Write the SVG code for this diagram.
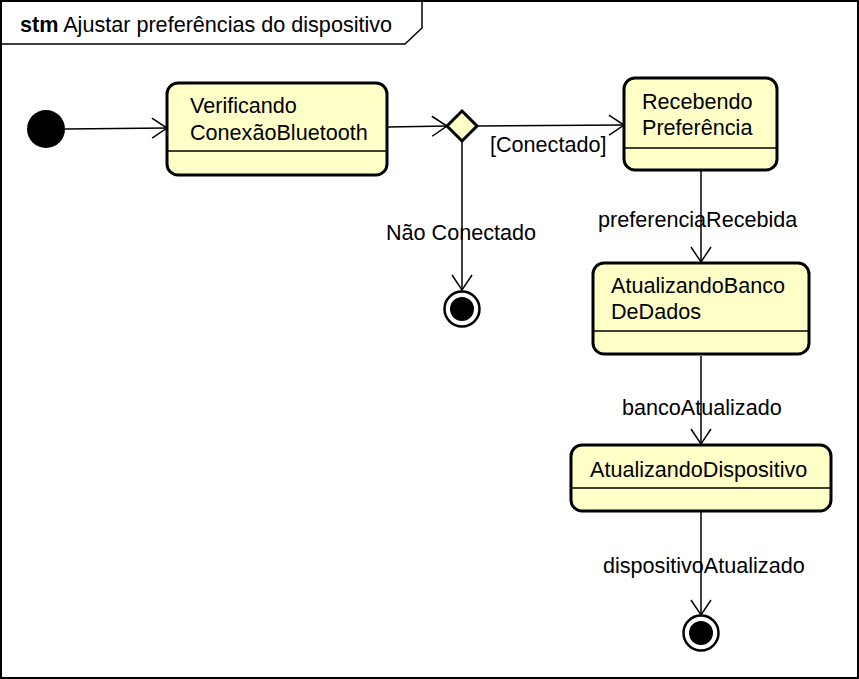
<svg xmlns="http://www.w3.org/2000/svg" width="859" height="679" viewBox="0 0 859 679">
<defs>
<style>
text{font-family:"Liberation Sans",Arial,sans-serif;font-size:21.6px;fill:#000}
.st{fill:#ffffc8;stroke:#000;stroke-width:3}
.cl{stroke:#000;stroke-width:1.5;fill:none}
.ln{stroke:#000;stroke-width:1.5;fill:none;marker-end:url(#ah)}
</style>
<marker id="ah" markerWidth="20" markerHeight="24" refX="16" refY="12" orient="auto" markerUnits="userSpaceOnUse">
<path d="M1,2 L16,12 L1,22" fill="none" stroke="#000" stroke-width="1.5"/>
</marker>
</defs>
<rect x="0" y="0" width="859" height="679" fill="#fff"/>
<g id="frame">
<rect x="1" y="1" width="857" height="677" fill="none" stroke="#000" stroke-width="2"/>
<path d="M1,44 L405,44 L422,28 L422,1" fill="none" stroke="#000" stroke-width="1.5"/>
<text x="20" y="32"><tspan font-weight="bold">stm</tspan> Ajustar preferências do dispositivo</text>
</g>
<g id="connectors">
<line class="ln" x1="65" y1="129" x2="167" y2="128"/>
<line class="ln" x1="388" y1="127" x2="447" y2="126"/>
<line class="ln" x1="477" y1="126" x2="624" y2="125"/>
<line class="ln" x1="462" y1="141" x2="462" y2="290"/>
<line class="ln" x1="701" y1="171" x2="701" y2="262"/>
<line class="ln" x1="701" y1="356" x2="701" y2="444"/>
<line class="ln" x1="701" y1="512" x2="701" y2="615"/>
<text x="490" y="152">[Conectado]</text>
<text x="386" y="240">Não Conectado</text>
<text x="598" y="227">preferenciaRecebida</text>
<text x="622" y="415">bancoAtualizado</text>
<text x="603" y="573">dispositivoAtualizado</text>
</g>
<g id="initial">
<circle cx="46" cy="129" r="19" fill="#000"/>
</g>
<g id="verificando">
<rect class="st" x="167" y="83" width="220" height="92" rx="11"/>
<line class="cl" x1="168" y1="151" x2="386" y2="151"/>
<text x="190" y="113">Verificando</text>
<text x="190" y="140">ConexãoBluetooth</text>
</g>
<g id="decision">
<path d="M462,111 L477,126 L462,141 L447,126 Z" fill="#ffffc8" stroke="#000" stroke-width="3"/>
</g>
<g id="final1">
<circle cx="462" cy="309" r="17.5" fill="#fff" stroke="#000" stroke-width="2.5"/>
<circle cx="462" cy="309" r="12" fill="#000"/>
</g>
<g id="recebendo">
<rect class="st" x="624" y="78" width="153" height="92" rx="11"/>
<line class="cl" x1="625" y1="148" x2="776" y2="148"/>
<text x="642" y="109">Recebendo</text>
<text x="642" y="135">Preferência</text>
</g>
<g id="banco">
<rect class="st" x="593" y="263" width="216" height="91" rx="11"/>
<line class="cl" x1="594" y1="331" x2="808" y2="331"/>
<text x="611" y="293">AtualizandoBanco</text>
<text x="611" y="319">DeDados</text>
</g>
<g id="dispositivo">
<rect class="st" x="571" y="445" width="260" height="66" rx="11"/>
<line class="cl" x1="572" y1="488" x2="830" y2="488"/>
<text x="590" y="477">AtualizandoDispositivo</text>
</g>
<g id="final2">
<circle cx="701" cy="633" r="17.5" fill="#fff" stroke="#000" stroke-width="2.5"/>
<circle cx="701" cy="633" r="12" fill="#000"/>
</g>
</svg>
